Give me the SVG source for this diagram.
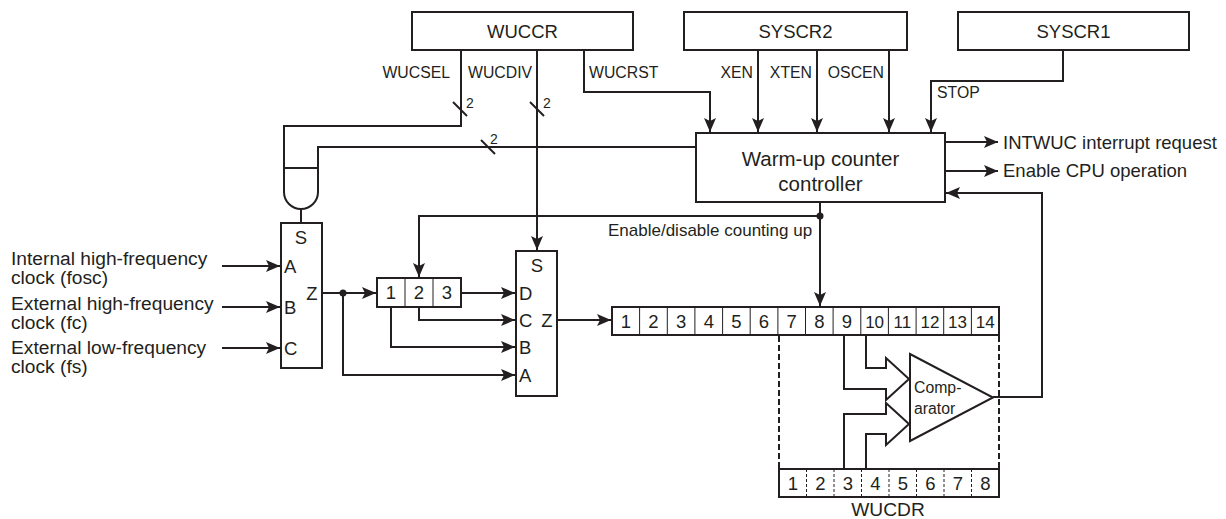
<svg xmlns="http://www.w3.org/2000/svg" width="1226" height="519" viewBox="0 0 1226 519">
<defs>
<style>
.ln{stroke:#231f20;stroke-width:2;fill:none}
.bx{fill:#fff;stroke:#231f20;stroke-width:2}
.cd{stroke:#231f20;stroke-width:1}
.dd{stroke:#231f20;stroke-width:1;stroke-dasharray:3,2}
.dash{stroke:#231f20;stroke-width:2;stroke-dasharray:6,3;fill:none}
text{font-family:"Liberation Sans",Arial,Helvetica,sans-serif;fill:#231f20}
.t18{font-size:18.5px}
.t20{font-size:20.5px}
.t19{font-size:19.2px}
.t16{font-size:15.8px}
.t14{font-size:14px}
.tc{text-anchor:middle}
.te{text-anchor:end}
</style>
<marker id="ar" viewBox="0 0 14 12" refX="14" refY="6" markerWidth="14" markerHeight="12" markerUnits="userSpaceOnUse" orient="auto">
<path d="M0,0 L14,6 L0,12 L3,6 Z" fill="#231f20"/>
</marker>
</defs>
<rect width="1226" height="519" fill="#fff"/>

<g id="connectors">
<!-- WUCSEL -->
<path class="ln" d="M461,50 V126 H284 V168"/>
<line class="ln" x1="453" y1="102" x2="467" y2="116"/>
<text class="t14" x="466" y="108">2</text>
<!-- WUCDIV -->
<path class="ln" d="M537,50 V250" marker-end="url(#ar)"/>
<line class="ln" x1="530" y1="102" x2="544" y2="116"/>
<text class="t14" x="543" y="108">2</text>
<!-- WUCRST -->
<path class="ln" d="M584,50 V92 H710 V132" marker-end="url(#ar)"/>
<!-- controller to gate -->
<path class="ln" d="M696,147 H318 V168"/>
<line class="ln" x1="481" y1="140" x2="495" y2="154"/>
<text class="t14" x="490" y="144">2</text>
<!-- SYSCR2 -->
<path class="ln" d="M758,50 V132" marker-end="url(#ar)"/>
<path class="ln" d="M817,50 V132" marker-end="url(#ar)"/>
<path class="ln" d="M889,50 V132" marker-end="url(#ar)"/>
<!-- SYSCR1 STOP -->
<path class="ln" d="M1063,50 V81 H931 V132" marker-end="url(#ar)"/>
<!-- outputs -->
<path class="ln" d="M945,142 H998" marker-end="url(#ar)"/>
<path class="ln" d="M945,171 H998" marker-end="url(#ar)"/>
<!-- feedback from comparator -->
<path class="ln" d="M993,397 H1042 V193 H946" marker-end="url(#ar)"/>
<!-- enable/disable counting -->
<path class="ln" d="M820,202 V306" marker-end="url(#ar)"/>
<path class="ln" d="M820,216 H419 V277" marker-end="url(#ar)"/>
<circle cx="820" cy="216" r="3.5" fill="#231f20"/>
<!-- gate to mux1 -->
<line class="ln" x1="301" y1="209" x2="301" y2="223"/>
<!-- inputs -->
<path class="ln" d="M222,266 H280" marker-end="url(#ar)"/>
<path class="ln" d="M222,307 H280" marker-end="url(#ar)"/>
<path class="ln" d="M222,348 H280" marker-end="url(#ar)"/>
<!-- mux1 Z -->
<path class="ln" d="M322,293 H376" marker-end="url(#ar)"/>
<circle cx="343" cy="293" r="3.5" fill="#231f20"/>
<path class="ln" d="M343,293 V375 H515" marker-end="url(#ar)"/>
<!-- divider to mux2 -->
<path class="ln" d="M461,293 H515" marker-end="url(#ar)"/>
<path class="ln" d="M419,307 V320 H515" marker-end="url(#ar)"/>
<path class="ln" d="M391,307 V347 H515" marker-end="url(#ar)"/>
<!-- mux2 Z to counter -->
<path class="ln" d="M557,320 H611" marker-end="url(#ar)"/>
<!-- comparator inputs -->
<path class="ln" d="M866,335 V368 H886 V358 L909,379 L886,400 V389 H844 V335"/>
<path class="ln" d="M844,469 V414 H886 V403 L909,424 L886,445 V434 H866 V469"/>
<!-- dashed frame -->
<line class="dash" x1="779" y1="336" x2="779" y2="469"/>
<line class="dash" x1="999" y1="336" x2="999" y2="469"/>
</g>

<g id="WUCCR">
<rect class="bx" x="412" y="12" width="221" height="38"/>
<text class="t18 tc" x="522.5" y="38">WUCCR</text>
<text class="t16 te" x="450" y="78">WUCSEL</text>
<text class="t16" x="468" y="78">WUCDIV</text>
<text class="t16" x="589" y="78">WUCRST</text>
</g>

<g id="SYSCR2">
<rect class="bx" x="684" y="12" width="223" height="38"/>
<text class="t18 tc" x="795.5" y="38">SYSCR2</text>
<text class="t16 te" x="753" y="78">XEN</text>
<text class="t16 te" x="812" y="78">XTEN</text>
<text class="t16 te" x="884" y="78">OSCEN</text>
</g>

<g id="SYSCR1">
<rect class="bx" x="958" y="12" width="231" height="38"/>
<text class="t18 tc" x="1073.5" y="38">SYSCR1</text>
<text class="t16" x="937" y="98">STOP</text>
</g>

<g id="controller">
<rect class="bx" x="696" y="133" width="249" height="69"/>
<text class="t20 tc" x="820.5" y="166">Warm-up counter</text>
<text class="t20 tc" x="820.5" y="191">controller</text>
</g>

<g id="outputs">
<text class="t18" x="1003" y="149">INTWUC interrupt request</text>
<text class="t18" x="1003" y="177">Enable CPU operation</text>
<text class="t18" x="608" y="236" style="font-size:17px">Enable/disable counting up</text>
</g>

<g id="gate">
<path class="bx" d="M284,168 H318 V192 A17,17 0 0 1 284,192 Z"/>
</g>

<g id="inputs">
<text class="t19" x="11" y="265">Internal high-frequency</text>
<text class="t19" x="11" y="284">clock (fosc)</text>
<text class="t19" x="11" y="310">External high-frequency</text>
<text class="t19" x="11" y="329">clock (fc)</text>
<text class="t19" x="11" y="354">External low-frequency</text>
<text class="t19" x="11" y="373">clock (fs)</text>
</g>

<g id="mux1">
<rect class="bx" x="281" y="223" width="41" height="145"/>
<text class="t18 tc" x="301" y="244">S</text>
<text class="t18" x="284" y="272.5">A</text>
<text class="t18" x="284" y="313.5">B</text>
<text class="t18" x="284" y="354.5">C</text>
<text class="t18 tc" x="312" y="299.5">Z</text>
</g>

<g id="divider">
<rect class="bx" x="377" y="278" width="84" height="29"/>
<line class="cd" x1="405" y1="278" x2="405" y2="307"/>
<line class="cd" x1="433" y1="278" x2="433" y2="307"/>
<text class="t18 tc" x="391" y="299">1</text>
<text class="t18 tc" x="419" y="299">2</text>
<text class="t18 tc" x="447" y="299">3</text>
</g>

<g id="mux2">
<rect class="bx" x="516" y="251" width="41" height="145"/>
<text class="t18 tc" x="537" y="272">S</text>
<text class="t18" x="519" y="299.5">D</text>
<text class="t18" x="519" y="326.5">C</text>
<text class="t18" x="519" y="353.5">B</text>
<text class="t18" x="519" y="381.5">A</text>
<text class="t18 tc" x="547" y="326.5">Z</text>
</g>

<g id="counter">
<rect class="bx" x="612" y="307" width="387" height="28"/>
<g class="cd">
<line x1="639.6" y1="307" x2="639.6" y2="335"/>
<line x1="667.3" y1="307" x2="667.3" y2="335"/>
<line x1="694.9" y1="307" x2="694.9" y2="335"/>
<line x1="722.6" y1="307" x2="722.6" y2="335"/>
<line x1="750.2" y1="307" x2="750.2" y2="335"/>
<line x1="777.9" y1="307" x2="777.9" y2="335"/>
<line x1="805.5" y1="307" x2="805.5" y2="335"/>
<line x1="833.1" y1="307" x2="833.1" y2="335"/>
<line x1="860.8" y1="307" x2="860.8" y2="335"/>
<line x1="888.4" y1="307" x2="888.4" y2="335"/>
<line x1="916.1" y1="307" x2="916.1" y2="335"/>
<line x1="943.7" y1="307" x2="943.7" y2="335"/>
<line x1="971.4" y1="307" x2="971.4" y2="335"/>
</g>
<g class="t18 tc">
<text x="625.8" y="327.5">1</text>
<text x="653.5" y="327.5">2</text>
<text x="681.1" y="327.5">3</text>
<text x="708.8" y="327.5">4</text>
<text x="736.4" y="327.5">5</text>
<text x="764" y="327.5">6</text>
<text x="791.7" y="327.5">7</text>
<text x="819.3" y="327.5">8</text>
<text x="847" y="327.5">9</text>
<text x="874.6" y="327.5" style="font-size:17px">10</text>
<text x="902.3" y="327.5" style="font-size:17px">11</text>
<text x="929.9" y="327.5" style="font-size:17px">12</text>
<text x="957.5" y="327.5" style="font-size:17px">13</text>
<text x="985.2" y="327.5" style="font-size:17px">14</text>
</g>
</g>

<g id="comparator">
<polygon class="bx" points="910,354 910,441 993,397.5"/>
<text class="t16" x="914" y="393">Comp-</text>
<text class="t16" x="914" y="414">arator</text>
</g>

<g id="WUCDR">
<rect class="bx" x="779" y="469" width="220" height="28"/>
<g class="dd">
<line x1="806.5" y1="469" x2="806.5" y2="497"/>
<line x1="834" y1="469" x2="834" y2="497"/>
<line x1="861.5" y1="469" x2="861.5" y2="497"/>
<line x1="889" y1="469" x2="889" y2="497"/>
<line x1="916.5" y1="469" x2="916.5" y2="497"/>
<line x1="944" y1="469" x2="944" y2="497"/>
<line x1="971.5" y1="469" x2="971.5" y2="497"/>
</g>
<g class="t18 tc">
<text x="792.8" y="489.5">1</text>
<text x="820.3" y="489.5">2</text>
<text x="847.8" y="489.5">3</text>
<text x="875.3" y="489.5">4</text>
<text x="902.8" y="489.5">5</text>
<text x="930.3" y="489.5">6</text>
<text x="957.8" y="489.5">7</text>
<text x="985.3" y="489.5">8</text>
</g>
<text class="t19 tc" x="888" y="516">WUCDR</text>
</g>
</svg>
